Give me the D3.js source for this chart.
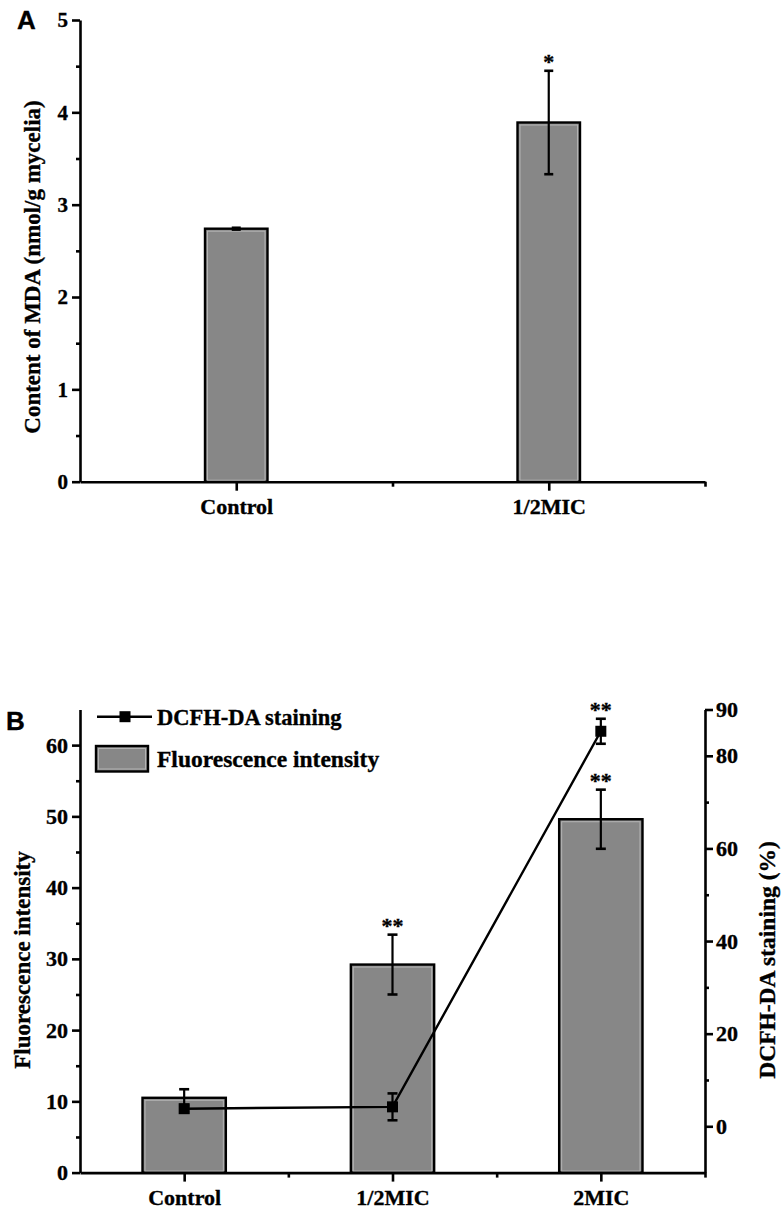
<!DOCTYPE html>
<html>
<head>
<meta charset="utf-8">
<script src="https://cdn.jsdelivr.net/npm/d3@7/dist/d3.min.js"></script>
<style>
  html, body { margin: 0; padding: 0; background: #fff; }
  svg text { font-family: "Liberation Serif", "Times New Roman", serif; font-weight: bold; fill: #000; stroke: #000; stroke-width: 0.35px; }
</style>
</head>
<body>
<svg id="chart" width="784" height="1214"></svg>
<script>
// ---------- DATA ----------
const catsA = ["Control", "1/2MIC"];
const mdaMean = [2.74, 3.89];
const mdaSd = [0.01, 0.56];
const mdaSig = ["", "*"];
const ticksA = [0, 1, 2, 3, 4, 5];
const minorA = [0.5, 1.5, 2.5, 3.5, 4.5];

const catsB = ["Control", "1/2MIC", "2MIC"];
const fluoMean = [10.5, 29.2, 49.6];
const fluoSd = [1.2, 4.2, 4.15];
const fluoSig = ["", "**", "**"];
const dcfhMean = [3.8, 4.2, 85.3];
const dcfhSd = [0.8, 2.9, 2.7];
const dcfhSig = ["", "", "**"];
const ticksBL = [0, 10, 20, 30, 40, 50, 60];
const minorBL = [5, 15, 25, 35, 45, 55];
const ticksBR = [0, 20, 40, 60, 80, 90];
const minorBR = [10, 30, 50, 70];

// ---------- SETUP ----------
const svg = d3.select("#chart");
const BAR_FILL = "#878787";
const AX_W = 2.6;

function styleAxis(g, fontSize) {
  g.select(".domain").attr("stroke", "#000").attr("stroke-width", AX_W);
  g.selectAll(".tick line").attr("stroke", "#000").attr("stroke-width", AX_W);
  g.selectAll(".tick text").attr("font-size", fontSize)
    .attr("font-family", "Liberation Serif, serif").attr("font-weight", "bold");
}
function minorTicks(g, axisGen) {
  g.call(axisGen);
  g.select(".domain").remove();
  g.selectAll(".tick text").remove();
  g.selectAll(".tick line").attr("stroke", "#000").attr("stroke-width", AX_W);
}
function drawBar(g, x, y0, y1, w) {
  g.append("rect").attr("x", x - w / 2).attr("y", y1).attr("width", w).attr("height", y0 - y1)
    .attr("fill", BAR_FILL).attr("stroke", "#000").attr("stroke-width", 2.4);
  g.append("rect").attr("x", x - w / 2 + 2.5).attr("y", y1 + 2.5).attr("width", w - 5).attr("height", Math.max(0, y0 - y1 - 4))
    .attr("fill", "none").attr("stroke", "#b4b4b4").attr("stroke-width", 1);
}
function drawErr(g, x, yTop, yBot, cap) {
  g.append("line").attr("x1", x).attr("x2", x).attr("y1", yTop).attr("y2", yBot)
    .attr("stroke", "#000").attr("stroke-width", 2.2);
  [yTop, yBot].forEach(yy => g.append("line").attr("x1", x - cap / 2).attr("x2", x + cap / 2)
    .attr("y1", yy).attr("y2", yy).attr("stroke", "#000").attr("stroke-width", 2.6));
}
function drawSig(g, x, yTop, s) {
  if (!s) return;
  g.append("text").attr("x", x).attr("y", yTop - 2).attr("text-anchor", "middle")
    .attr("font-size", 22).text(s);
}

// ---------- PANEL A ----------
const gA = svg.append("g");
const xA = d3.scaleLinear().domain([0.5, 2.5]).range([80, 705]);
const yA = d3.scaleLinear().domain([0, 5]).range([481.7, 20]);
const barWA = (xA(2) - xA(1)) * 0.2;

catsA.forEach((c, i) => {
  const xc = xA(i + 1);
  drawBar(gA, xc, yA(0), yA(mdaMean[i]), barWA);
  drawErr(gA, xc, yA(mdaMean[i] + mdaSd[i]), yA(mdaMean[i] - mdaSd[i]), 9);
  drawSig(gA, xc, yA(mdaMean[i] + mdaSd[i]), mdaSig[i]);
});

gA.append("g").attr("transform", `translate(80,0)`)
  .call(g => minorTicks(g, d3.axisLeft(yA).tickValues(minorA).tickSize(4)));
const axAY = gA.append("g").attr("transform", `translate(80,0)`)
  .call(d3.axisLeft(yA).tickValues(ticksA).tickFormat(d3.format("d")).tickSize(8).tickSizeOuter(0).tickPadding(4));
styleAxis(axAY, 21);

gA.append("g").attr("transform", `translate(0,${yA(0)})`)
  .call(g => minorTicks(g, d3.axisBottom(xA).tickValues([1.5, 2.5]).tickSize(5)));
const axAX = gA.append("g").attr("transform", `translate(0,${yA(0)})`)
  .call(d3.axisBottom(xA).tickValues([1, 2]).tickFormat((d, i) => catsA[i]).tickSize(9).tickSizeOuter(0).tickPadding(8));
styleAxis(axAX, 22);

gA.append("text").attr("transform", "translate(40,267) rotate(-90)").attr("text-anchor", "middle")
  .attr("font-size", 23).text("Content of MDA (nmol/g mycelia)");
gA.append("text").attr("x", 17).attr("y", 29).attr("font-size", 26)
  .style("font-family", "Liberation Sans, Arial, sans-serif")
  .text("A");

// ---------- PANEL B ----------
const gB = svg.append("g");
const xB = d3.scaleLinear().domain([0.5, 3.5]).range([80, 705]);
const yBL = d3.scaleLinear().domain([0, 65]).range([1172.6, 709.5]);
const yBR = d3.scaleLinear().domain([-10, 90]).range([1172.6, 709.5]);
const barWB = (xB(2) - xB(1)) * 0.4;

catsB.forEach((c, i) => {
  const xc = xB(i + 1);
  drawBar(gB, xc, yBL(0), yBL(fluoMean[i]), barWB);
  drawErr(gB, xc, yBL(fluoMean[i] + fluoSd[i]), yBL(fluoMean[i] - fluoSd[i]), 10);
  drawSig(gB, xc, yBL(fluoMean[i] + fluoSd[i]), fluoSig[i]);
});

const lineGen = d3.line().x((d, i) => xB(i + 1)).y(d => yBR(d));
gB.append("path").datum(dcfhMean).attr("d", lineGen)
  .attr("fill", "none").attr("stroke", "#000").attr("stroke-width", 2.4);
dcfhMean.forEach((v, i) => {
  const xc = xB(i + 1);
  drawErr(gB, xc, yBR(v + dcfhSd[i]), yBR(v - dcfhSd[i]), 10);
  drawSig(gB, xc, yBR(v + dcfhSd[i]), dcfhSig[i]);
});
gB.selectAll("rect.mk").data(dcfhMean).join("rect").attr("class", "mk")
  .attr("x", (d, i) => xB(i + 1) - 5.5).attr("y", d => yBR(d) - 5.5)
  .attr("width", 11).attr("height", 11).attr("fill", "#000");

// left axis
gB.append("g").attr("transform", `translate(80,0)`)
  .call(g => minorTicks(g, d3.axisLeft(yBL).tickValues(minorBL).tickSize(4)));
const axBL = gB.append("g").attr("transform", `translate(80,0)`)
  .call(d3.axisLeft(yBL).tickValues(ticksBL).tickFormat(d3.format("d")).tickSize(8).tickSizeOuter(0).tickPadding(4));
styleAxis(axBL, 22);
// right axis
gB.append("g").attr("transform", `translate(705,0)`)
  .call(g => minorTicks(g, d3.axisRight(yBR).tickValues(minorBR).tickSize(4)));
const axBR = gB.append("g").attr("transform", `translate(705,0)`)
  .call(d3.axisRight(yBR).tickValues(ticksBR).tickFormat(d3.format("d")).tickSize(8).tickSizeOuter(0).tickPadding(3));
styleAxis(axBR, 22);
// x axis
gB.append("g").attr("transform", `translate(0,${yBL(0)})`)
  .call(g => minorTicks(g, d3.axisBottom(xB).tickValues([1.5, 2.5, 3.5]).tickSize(5)));
const axBX = gB.append("g").attr("transform", `translate(0,${yBL(0)})`)
  .call(d3.axisBottom(xB).tickValues([1, 2, 3]).tickFormat((d, i) => catsB[i]).tickSize(9).tickSizeOuter(0).tickPadding(8));
styleAxis(axBX, 22);

gB.append("text").attr("transform", "translate(30,960) rotate(-90)").attr("text-anchor", "middle")
  .attr("font-size", 23).text("Fluorescence intensity");
gB.append("text").attr("transform", "translate(775,960) rotate(-90)").attr("text-anchor", "middle")
  .attr("font-size", 23.5).text("DCFH-DA staining (%)");
gB.append("text").attr("x", 6).attr("y", 730).attr("font-size", 26)
  .style("font-family", "Liberation Sans, Arial, sans-serif").text("B");

// legend
const lg = gB.append("g");
lg.append("line").attr("x1", 97).attr("x2", 152).attr("y1", 716.7).attr("y2", 716.7)
  .attr("stroke", "#000").attr("stroke-width", 2.4);
lg.append("rect").attr("x", 125 - 5.5).attr("y", 716.7 - 5.5).attr("width", 11).attr("height", 11).attr("fill", "#000");
lg.append("text").attr("x", 157).attr("y", 724.5).attr("font-size", 22.5).text("DCFH-DA staining");
lg.append("rect").attr("x", 96).attr("y", 746).attr("width", 52).attr("height", 25.5)
  .attr("fill", BAR_FILL).attr("stroke", "#000").attr("stroke-width", 2.4);
lg.append("rect").attr("x", 98.5).attr("y", 748.5).attr("width", 47).attr("height", 20.5)
  .attr("fill", "none").attr("stroke", "#b4b4b4").attr("stroke-width", 1);
lg.append("text").attr("x", 157).attr("y", 767).attr("font-size", 23.5).text("Fluorescence intensity");
</script>
</body>
</html>
